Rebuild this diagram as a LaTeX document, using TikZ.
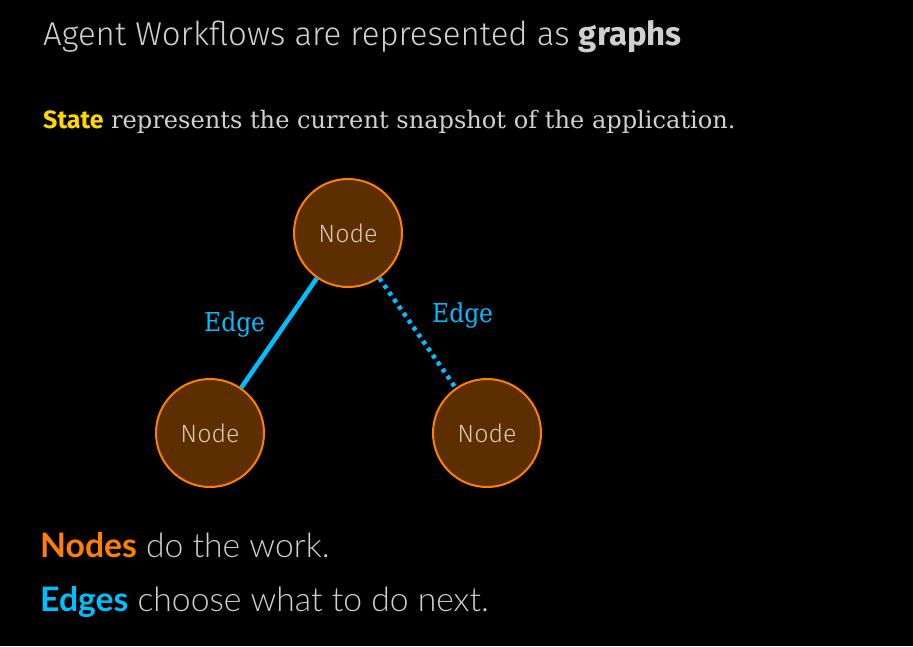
\documentclass[tikz,border=0pt]{standalone}
\usepackage{fontspec}
\setmainfont{Fira Sans}
\newfontfamily\titlefont{Fira Sans}[UprightFont=* Light, BoldFont=* Bold]
\newfontfamily\bodyfont{Lato}[UprightFont=* Light, BoldFont=* Bold]
\newfontfamily\slabfont{DejaVu Serif}
\newfontfamily\slabcondfont{DejaVu Serif Condensed}
\newfontfamily\labelfont{Fira Sans}[UprightFont=* Bold]
\newfontfamily\nodefont{Fira Sans}[UprightFont=* Light]
\definecolor{bgblack}{HTML}{000000}
\definecolor{textgray}{HTML}{D0D0D0}
\definecolor{stateyellow}{HTML}{FFD700}
\definecolor{nodeorange}{HTML}{FF7F00}
\definecolor{nodefill}{HTML}{5C2E00}
\definecolor{nodetext}{HTML}{D8C8B8}
\definecolor{edgeblue}{HTML}{00BFFF}
\tikzset{
  graphnode/.style={circle, draw=nodeorange, fill=nodefill, line width=2pt,
    minimum size=108pt, inner sep=0pt, text=nodetext, font=\nodefont\fontsize{25}{27}\selectfont},
  edgeline/.style={draw=edgeblue, line width=4.5pt},
  edgedots/.style={draw=edgeblue, line width=4.5pt, dash pattern=on 4pt off 4.5pt},
  edgelabel/.style={text=edgeblue, inner sep=0pt, anchor=base west, font=\slabcondfont\fontsize{26}{28}\selectfont},
  caption/.style={inner sep=0pt, anchor=base west, text=textgray}
}
\begin{document}
\begin{tikzpicture}[x=1pt,y=-1pt]
  \fill[bgblack] (0,0) rectangle (913,646);
  \useasboundingbox (0,0) rectangle (913,646);

  % heading and subtitle
  \node[caption, font=\titlefont\fontsize{33}{37}\selectfont] (title) at (43,45)
    {Agent Workflows are represented as \textbf{graphs}};
  \node[caption, font=\slabfont\fontsize{24.1}{26}\selectfont] (state) at (43,128)
    {{\labelfont\fontsize{25}{27}\selectfont\color{stateyellow}State} represents the current snapshot of the application.};

  % the graph
  \node[graphnode] (top) at (348,233) {Node};
  \node[graphnode] (left) at (210,433) {Node};
  \node[graphnode] (right) at (487,433) {Node};

  \draw[edgeline] (top) -- (left);
  \draw[edgedots] (top) -- (right);

  \node[edgelabel] (lbl1) at (204,331) {Edge};
  \node[edgelabel] (lbl2) at (432,322) {Edge};

  % legend lines
  \node[caption, font=\bodyfont\fontsize{33.7}{37}\selectfont] (nodesline) at (40,557)
    {{\bfseries\color{nodeorange}Nodes} do the work.};
  \node[caption, font=\bodyfont\fontsize{33.7}{37}\selectfont] (edgesline) at (40,611)
    {{\bfseries\color{edgeblue}Edges} choose what to do next.};
\end{tikzpicture}
\end{document}
